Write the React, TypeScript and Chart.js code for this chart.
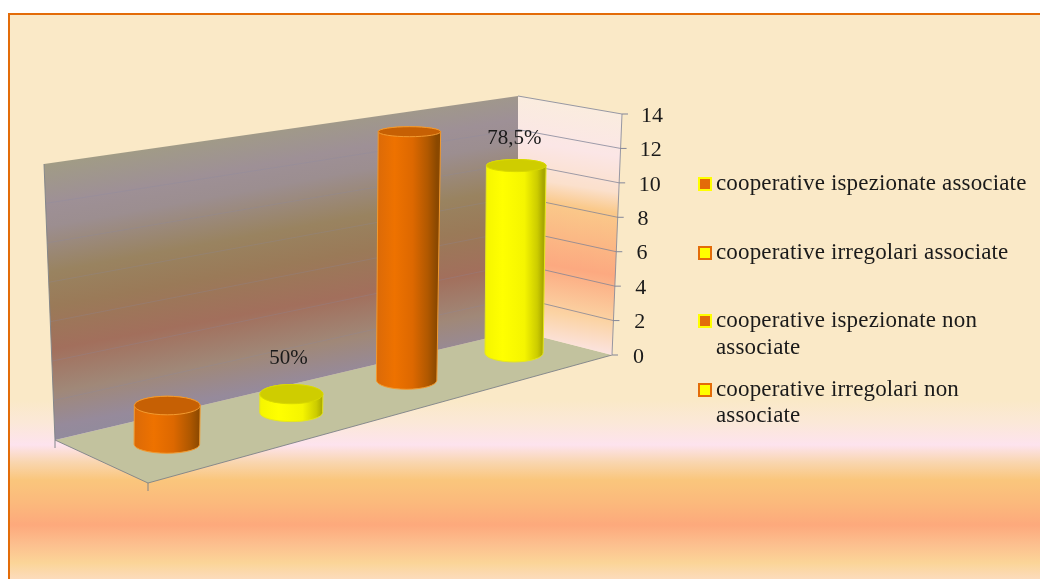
import React, { useEffect, useRef } from "react";
import { Chart, registerables } from "chart.js";

Chart.register(...registerables);

const categories = [
  "cooperative ispezionate associate",
  "cooperative irregolari associate",
  "cooperative ispezionate non associate",
  "cooperative irregolari non associate",
];
const values = [2, 1, 14, 11];
const pointLabels = ["", "50%", "", "78,5%"];
const legendLines = [
  ["cooperative ispezionate associate"],
  ["cooperative irregolari associate"],
  ["cooperative ispezionate non", "associate"],
  ["cooperative irregolari non", "associate"],
];
const tickValues = [0, 2, 4, 6, 8, 10, 12, 14];

const ORANGE = "#E36C09";
const YELLOW = "#FFFF00";
const FONT = '"Liberation Serif", serif';

// 3D frame of the plot
const W = {
  backTL: [44, 164], backTR: [518, 96], backBR: [518, 331], backBL: [55, 440],
  front: [148, 483], right: [612, 355], rightTop: [622, 114],
};

function poly(ctx: CanvasRenderingContext2D, pts: number[][]) {
  ctx.beginPath();
  pts.forEach((p, i) => (i ? ctx.lineTo(p[0], p[1]) : ctx.moveTo(p[0], p[1])));
  ctx.closePath();
}
function seg(ctx: CanvasRenderingContext2D, a: number[], b: number[]) {
  ctx.beginPath();
  ctx.moveTo(a[0], a[1]);
  ctx.lineTo(b[0], b[1]);
  ctx.stroke();
}

const warp = (t: number) => (t * 1.158) / (1 + 0.158 * t);

const wallPlugin = {
  id: "walls",
  beforeDraw(chart: any) {
    // slant the axis labels along the receding axis, keep the library's own drawing
    const y = chart.scales.y;
    const z = y.getPixelForValue(0);
    const items = y.getLabelItems();
    items.forEach((it: any, i: number) => {
      const py = y.getPixelForValue(y.ticks[i].value);
      it.options.translation[0] = 633 + ((z - py) / 241) * 8;
      it.options.translation[1] = py + 2;
    });
  },
  beforeDatasetsDraw(chart: any) {
    const ctx: CanvasRenderingContext2D = chart.ctx;
    const y = chart.scales.y;
    const y0 = y.getPixelForValue(0);
    const yTop = y.getPixelForValue(14);
    ctx.save();

    // floor
    poly(ctx, [W.backBL, W.backBR, W.right, W.front]);
    ctx.fillStyle = "#C2C29E";
    ctx.fill();
    ctx.strokeStyle = "rgba(125,130,135,0.9)";
    ctx.lineWidth = 1;
    seg(ctx, W.backBL, W.front);
    seg(ctx, W.front, W.right);

    // back wall
    const g = ctx.createLinearGradient(44, 164, 44 + 0.18 * 278, 164 + 278);
    g.addColorStop(0, "#A19C85");
    g.addColorStop(0.14, "#9E9096");
    g.addColorStop(0.22, "#9C8E90");
    g.addColorStop(0.38, "#998360");
    g.addColorStop(0.5, "#9A7A58");
    g.addColorStop(0.65, "#A26F5C");
    g.addColorStop(0.8, "#A08878");
    g.addColorStop(0.92, "#968A9B");
    g.addColorStop(1, "#8F8C9E");
    poly(ctx, [W.backTL, W.backTR, W.backBR, W.backBL]);
    ctx.fillStyle = g;
    ctx.fill();
    ctx.strokeStyle = "rgba(125,130,135,0.9)";
    seg(ctx, W.backTL, W.backBL);

    // side wall
    const s = ctx.createLinearGradient(600, 96, 560, 350);
    s.addColorStop(0, "#FAEEDC");
    s.addColorStop(0.22, "#FBE6E6");
    s.addColorStop(0.36, "#FBE0CC");
    s.addColorStop(0.44, "#FAC98A");
    s.addColorStop(0.68, "#FCA980");
    s.addColorStop(0.86, "#FBD3A3");
    s.addColorStop(1, "#FBE5E6");
    poly(ctx, [W.backTR, W.rightTop, W.right, W.backBR]);
    ctx.fillStyle = s;
    ctx.fill();
    ctx.strokeStyle = "rgba(125,130,150,0.8)";
    seg(ctx, W.backTR, W.rightTop);
    seg(ctx, W.rightTop, W.right);

    // gridlines + tick marks from the y scale
    y.ticks.forEach((t: any) => {
      const v = t.value;
      const py = y.getPixelForValue(v);
      const f = (y0 - py) / (y0 - yTop);
      const ex = W.right[0] + (W.rightTop[0] - W.right[0]) * f;
      const bx = W.backBR[0];
      const by = W.backBR[1] + (W.backTR[1] - W.backBR[1]) * f;
      const lx = W.backBL[0] + (W.backTL[0] - W.backBL[0]) * f;
      const ly = W.backBL[1] + (W.backTL[1] - W.backBL[1]) * f;
      if (v > 0 && v < 14) {
        ctx.strokeStyle = "rgba(125,130,150,0.75)";
        seg(ctx, [bx, by], [ex, py]);
        ctx.strokeStyle = "rgba(135,135,165,0.25)";
        seg(ctx, [lx, ly], [bx, by]);
      }
      ctx.strokeStyle = "rgba(125,130,150,0.95)";
      seg(ctx, [ex, py], [ex + 6, py]);
    });
    // category end ticks
    ctx.strokeStyle = "rgba(125,130,135,0.95)";
    seg(ctx, W.backBL, [W.backBL[0], W.backBL[1] + 8]);
    seg(ctx, W.front, [W.front[0], W.front[1] + 8]);
    ctx.restore();
  },
  afterDatasetsDraw(chart: any) {
    const ctx: CanvasRenderingContext2D = chart.ctx;
    const y = chart.scales.y;
    const area = chart.chartArea;
    const meta = chart.getDatasetMeta(0);
    const y0 = y.getPixelForValue(0);
    ctx.save();
    meta.data.forEach((bar: any, i: number) => {
      const v = values[i];
      const t = warp((bar.x - area.left) / (area.right - area.left));
      const cx = 101 + 464 * t;
      const baseY = 461 - 118 * t - (t > 0.5 ? 3 : 0);
      const h = (y0 - bar.y) * (1.15 - 0.18 * t);
      const rxB = 33.5 - 5 * t;
      const rxT = rxB + (v / 14) * 1;
      const ryB = 9;
      const ryT = 10 - (5 * v) / 14;
      const tx = cx + v * 0.2;
      const ty = baseY - h;
      const isO = i % 2 === 0;

      const g = ctx.createLinearGradient(cx - rxB, 0, cx + rxB, 0);
      if (isO) {
        g.addColorStop(0, "#DB6A08");
        g.addColorStop(0.3, "#EE7200");
        g.addColorStop(0.6, "#DD6800");
        g.addColorStop(0.85, "#B05800");
        g.addColorStop(1, "#8A4800");
      } else {
        g.addColorStop(0, "#F5F500");
        g.addColorStop(0.3, YELLOW);
        g.addColorStop(0.68, "#F5F500");
        g.addColorStop(0.9, "#CCCC00");
        g.addColorStop(1, "#A8A800");
      }
      ctx.beginPath();
      ctx.moveTo(tx - rxT, ty);
      ctx.lineTo(cx - rxB, baseY);
      ctx.ellipse(cx, baseY, rxB, ryB, 0, Math.PI, 0, true);
      ctx.lineTo(tx + rxT, ty);
      ctx.ellipse(tx, ty, rxT, ryT, 0, 0, Math.PI, true);
      ctx.closePath();
      ctx.fillStyle = g;
      ctx.fill();
      ctx.strokeStyle = isO ? "#F29A30" : "#E6E620";
      ctx.lineWidth = 1;
      ctx.stroke();

      ctx.beginPath();
      ctx.ellipse(tx, ty, rxT, ryT, 0, 0, Math.PI * 2);
      ctx.fillStyle = isO ? "#C66004" : "#CFCD00";
      ctx.fill();
      ctx.strokeStyle = isO ? "#F29A30" : "#D8D800";
      ctx.stroke();

      if (pointLabels[i]) {
        ctx.font = `21px ${FONT}`;
        ctx.fillStyle = "#1a1a1a";
        ctx.textAlign = "center";
        ctx.textBaseline = "middle";
        ctx.fillText(pointLabels[i], tx - 3 + v * 0.1, ty - (37 - v * 0.9));
      }
    });
    ctx.restore();
  },
};

export default function App() {
  const ref = useRef<HTMLCanvasElement>(null);
  useEffect(() => {
    const chart = new Chart(ref.current as HTMLCanvasElement, {
      type: "bar",
      data: {
        labels: categories,
        datasets: [{ data: values, backgroundColor: "transparent", borderWidth: 0 }],
      },
      plugins: [wallPlugin],
      options: {
        animation: false,
        responsive: false,
        events: [],
        layout: { padding: { left: 101, top: 114, right: 0, bottom: 579 - 355 } },
        plugins: { legend: { display: false }, tooltip: { enabled: false } },
        scales: {
          x: { display: false },
          y: {
            position: "right",
            min: 0,
            max: 14,
            afterFit: (s: any) => { s.width = 1040 - 612; },
            afterBuildTicks: (s: any) => { s.ticks = tickValues.map((value) => ({ value })); },
            grid: { display: false },
            border: { display: false },
            ticks: {
              color: "#1a1a1a",
              font: { family: FONT, size: 22 },
              padding: 20,
            },
          },
        },
      },
    } as any);
    return () => chart.destroy();
  }, []);

  return (
    <div style={{ position: "fixed", left: 0, top: 0, width: 1040, height: 579, background: "#fff", overflow: "hidden" }}>
      <div
        style={{
          position: "absolute", left: 8, top: 13, width: 1040, height: 580,
          boxSizing: "border-box", borderLeft: "2px solid #E36C09", borderTop: "2px solid #E36C09",
          background:
            "linear-gradient(180deg,#FAE9C7 0,#FAE9C7 385px,#FBE8D8 408px,#FDE3EE 430px,#F9D6B0 447px,#FAC67C 465px,#FBB97C 488px,#FDA97C 510px,#FCC08F 530px,#FBD598 548px,#FCDCC0 566px)",
        }}
      />
      <canvas ref={ref} width={1040} height={579} style={{ position: "absolute", left: 0, top: 0 }} />
      {legendLines.map((lines, i) => (
        <div key={i} style={{ position: "absolute", left: 698, top: 170 + i * 68.5, fontFamily: FONT, fontSize: 23, letterSpacing: 0.16, lineHeight: "26.5px", color: "#1a1a1a", whiteSpace: "nowrap" }}>
          <span style={{ position: "absolute", left: 0, top: 7, width: 14, height: 14, boxSizing: "border-box", background: i % 2 ? YELLOW : ORANGE, border: `2.5px solid ${i % 2 ? ORANGE : YELLOW}` }} />
          <div style={{ marginLeft: 18 }}>
            {lines.map((l) => <div key={l}>{l}</div>)}
          </div>
        </div>
      ))}
    </div>
  );
}
